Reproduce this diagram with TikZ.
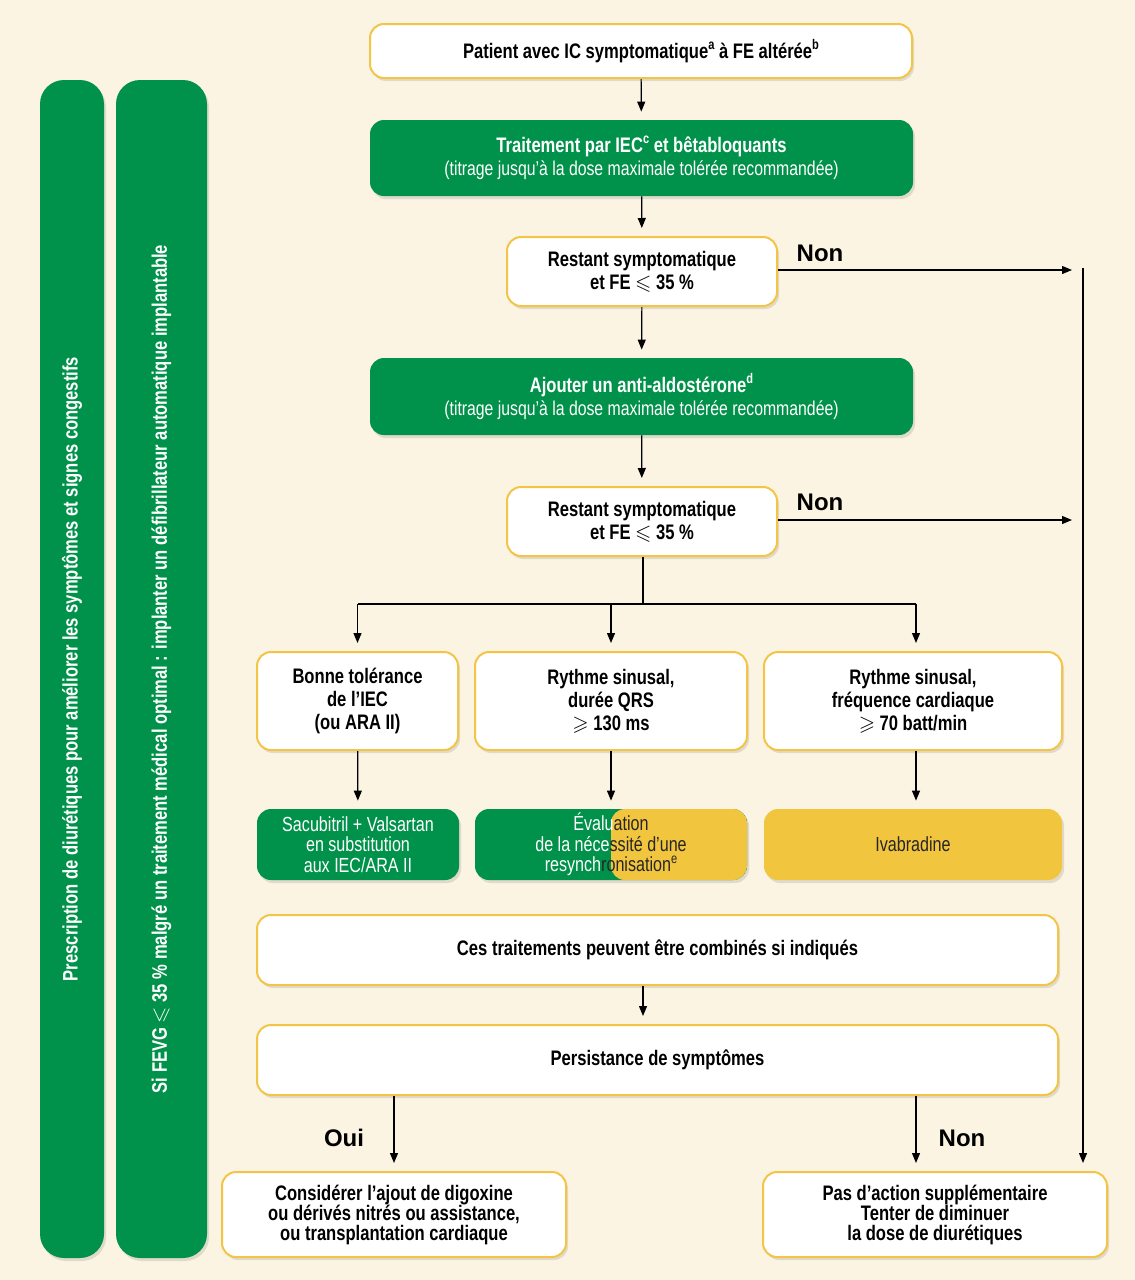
\documentclass[tikz,border=0pt]{standalone}
\usepackage{amssymb}
\usepackage{fontspec}
\setmainfont{Liberation Sans}[FakeStretch=0.79]
\newfontfamily\answerfont{Liberation Sans}
\usetikzlibrary{arrows.meta,positioning,shadows}
\definecolor{cream}{RGB}{251,244,226}
\definecolor{hasgreen}{RGB}{0,146,74}
\definecolor{hasyellow}{RGB}{242,197,62}
\definecolor{hasborder}{RGB}{243,196,70}
\newcommand{\lesl}{$\leqslant$}
\newcommand{\gesl}{$\geqslant$}
\newcommand{\sups}[1]{\raisebox{0.8ex}{\scriptsize #1}}
\newcommand{\onyellow}[1]{\textcolor{black!85}{#1}}

\begin{document}
\begin{tikzpicture}[x=0.5pt, y=-0.5pt,
  boxtext/.style={align=center, inner sep=2pt, font=\fontsize{10}{11.5}\selectfont},
  box/.style={boxtext, rounded corners=7pt, drop shadow={opacity=0.22, shadow xshift=1pt, shadow yshift=-1.5pt}},
  cond/.style={box, draw=hasborder, line width=1pt, fill=white, font=\bfseries\fontsize{10.5}{11.5}\selectfont},
  treat/.style={box, fill=hasgreen, text=white},
  drug/.style={box, fill=hasyellow, text=black!85},
  small/.style={font=\fontsize{10.2}{10.25}\selectfont},
  sidebar/.style={box, fill=hasgreen, text=white, rounded corners=12pt, font=\bfseries\fontsize{10.5}{11.5}\selectfont},
  flow/.style={-{Triangle[length=5pt, width=4pt]}, line width=0.6pt, shorten >=4pt},
  answer/.style={font=\answerfont\bfseries\fontsize{12}{14}\selectfont}]
  \useasboundingbox[fill=cream] (0,0) rectangle (1135,1280);

  % side bars
  \node[sidebar, rotate=90, minimum width=589pt, minimum height=32pt] (diur) at (72,669) {Prescription de diurétiques pour améliorer les symptômes et signes congestifs}; %
  \node[sidebar, rotate=90, minimum width=589pt, minimum height=45.5pt] (dai) at (161.5,669) {Si FEVG \lesl{} 35 \% malgré un traitement médical optimal : implanter un défibrillateur automatique implantable}; %

  % main column
  \node[cond, minimum width=271pt, minimum height=27pt] (patient) at (641,51) {Patient avec IC symptomatique\sups{a} à FE altérée\sups{b}}; %
  \node[treat, minimum width=271.5pt, minimum height=38pt] (iec) at (641.5,158) {{\bfseries\fontsize{10.5}{11.5}\selectfont Traitement par IEC\sups{c} et bêtabloquants}\\(titrage jusqu’à la dose maximale tolérée recommandée)}; %
  \node[cond, minimum width=135pt, minimum height=34.5pt] (rest1) at (642,271.5) {Restant symptomatique\\et FE \lesl{} 35 \%}; %
  \node[treat, minimum width=271.5pt, minimum height=38.5pt] (aldo) at (641.5,396.5) {{\bfseries\fontsize{10.5}{11.5}\selectfont Ajouter un anti-aldostérone\sups{d}}\\(titrage jusqu’à la dose maximale tolérée recommandée)}; %
  \node[cond, minimum width=135pt, minimum height=34.5pt] (rest2) at (642,521.5) {Restant symptomatique\\et FE \lesl{} 35 \%}; %

  % three branches
  \node[cond, minimum width=100.5pt, minimum height=49pt] (tol) at (357.5,701) {Bonne tolérance\\de l’IEC\\(ou ARA II)}; %
  \node[cond, minimum width=136pt, minimum height=49pt] (qrs) at (611,701) {Rythme sinusal,\\durée QRS\\\gesl{} 130 ms}; %
  \node[cond, minimum width=149pt, minimum height=49pt] (fc) at (913,701) {Rythme sinusal,\\fréquence cardiaque\\\gesl{} 70 batt/min}; %

  \node[treat, small, minimum width=101pt, minimum height=35.5pt] (sacu) at (358,844.5) {Sacubitril + Valsartan\\en substitution\\aux IEC/ARA II}; %
  \node[treat, small, minimum width=136pt, minimum height=35.5pt,
    path picture={\fill[hasyellow] (path picture bounding box.north) rectangle (path picture bounding box.south east);}] (crt) at (611,844.5) {Évalu\onyellow{ation}\\de la néce\onyellow{ssité d’une}\\resynch\onyellow{ronisation\sups{e}}}; %
  \node[drug, small, minimum width=149pt, minimum height=35.5pt] (ivab) at (913,844.5) {Ivabradine}; %

  \node[cond, minimum width=400.5pt, minimum height=35pt] (combo) at (657.5,950) {Ces traitements peuvent être combinés si indiqués}; %
  \node[cond, minimum width=400.5pt, minimum height=35pt] (persist) at (657.5,1060) {Persistance de symptômes}; %
  \node[cond, minimum width=172pt, minimum height=42.5pt, font=\bfseries\fontsize{10.5}{10}\selectfont] (digox) at (394,1214.5) {Considérer l’ajout de digoxine\\ou dérivés nitrés ou assistance,\\ou transplantation cardiaque}; %
  \node[cond, minimum width=172pt, minimum height=42.5pt, font=\bfseries\fontsize{10.5}{10}\selectfont] (noact) at (935,1214.5) {Pas d’action supplémentaire\\Tenter de diminuer\\la dose de diurétiques}; %

  % connectors
  \coordinate (non1) at (1072,270); %
  \coordinate (non2) at (1072,520); %
  \coordinate (rail) at (1083,268); %
  \coordinate (split) at (643,604); %
  \coordinate (nonx) at (916,0); %
  \draw[flow] (patient) -- (iec); %
  \draw[flow] (iec) -- (rest1); %
  \draw[flow] (rest1) -- (aldo); %
  \draw[flow] (aldo) -- (rest2); %
  \draw[flow, shorten >=0pt] (rest1.east |- non1) -- (non1); %
  \draw[flow, shorten >=0pt] (rest2.east |- non2) -- (non2); %
  \draw[flow] (rail) -- (rail |- noact.north); %
  \draw[line width=0.6pt] (rest2.south -| split) -- (split); %
  \draw[line width=0.6pt] (split -| tol) -- (split -| nonx); %
  \draw[flow] (split -| tol) -- (tol.north); %
  \draw[flow] (split -| qrs) -- (qrs.north); %
  \draw[flow] (split -| nonx) -- (fc.north -| nonx); %
  \draw[flow] (tol) -- (sacu); %
  \draw[flow] (qrs) -- (crt); %
  \draw[flow] (fc.south -| nonx) -- (ivab.north -| nonx); %
  \draw[flow] (combo.south -| split) -- (persist.north -| split); %
  \draw[flow] (persist.south -| digox) -- (digox.north); %
  \draw[flow] (persist.south -| nonx) -- (noact.north -| nonx); %

  % answers
  \node[answer] (nonA) at (820,253) {Non}; %
  \node[answer] (nonB) at (820,502) {Non}; %
  \node[answer] (oui) at (344,1138) {Oui}; %
  \node[answer] (nonC) at (962,1138) {Non}; %
\end{tikzpicture}
\end{document}
